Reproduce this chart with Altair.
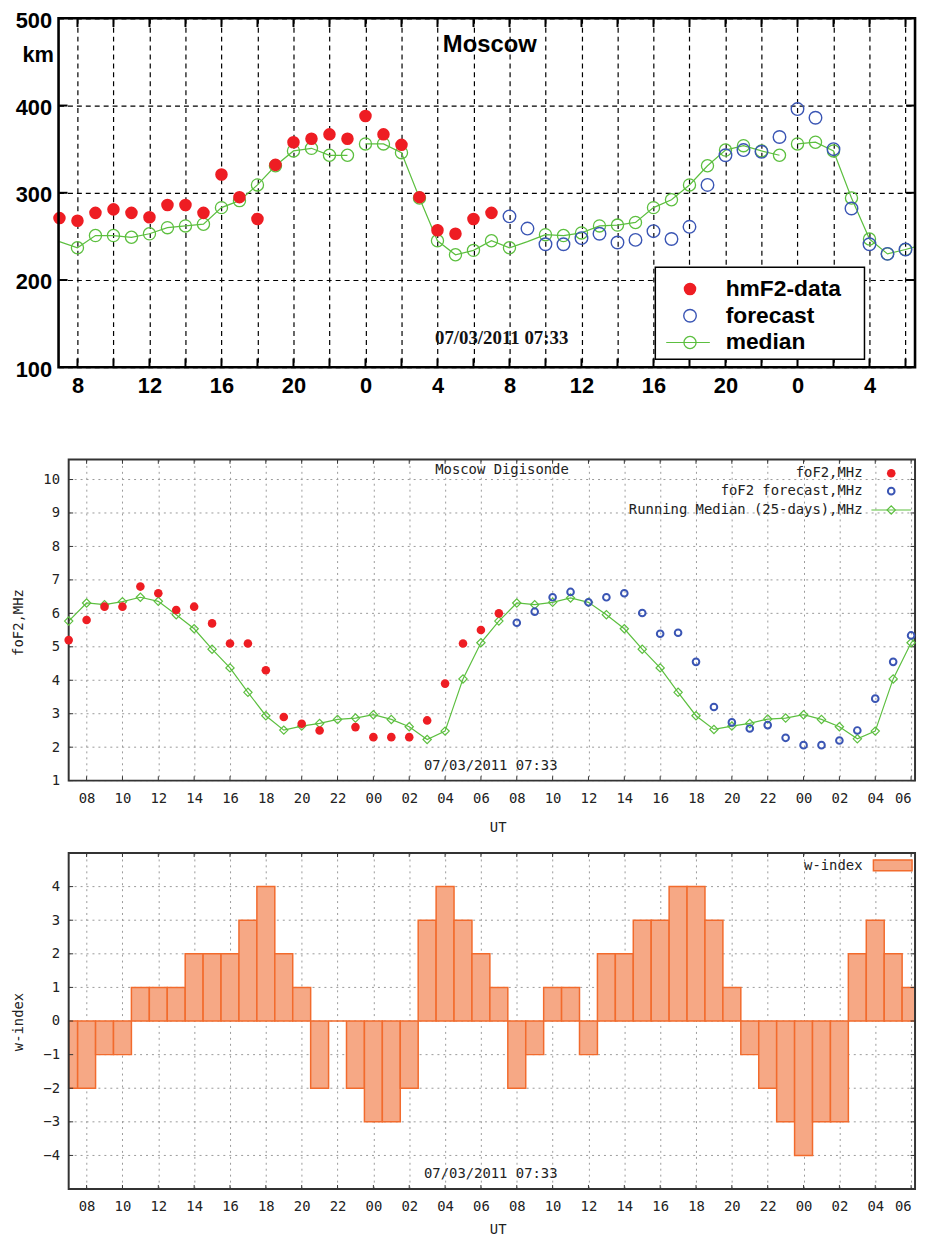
import altair as alt
import pandas as pd

# ---------------- data (hour counted from 00 UT of the first day) ----------------
hm_hours = list(range(7, 32))
hm_values = [271, 268, 277, 281, 277, 272, 286, 286, 277, 321, 295, 270, 332, 358,
             362, 367, 362, 388, 367, 355, 295, 257, 253, 270, 277]
hm_fc_hours = list(range(32, 55))
hm_fc_values = [273, 259, 241, 241, 248, 253, 243, 246, 256, 247, 261, 309, 343, 349,
                347, 364, 396, 386, 350, 282, 241, 230, 235]
# median: hourly values, last entry is the value read at the right frame edge
hm_med_hours = list(range(7, 55)) + [54.53]
hm_med_values = [244, 237, 251, 251, 249, 253, 260, 262, 264, 283, 291, 309, 331, 348, 351, 343, 343,
                 356, 356, 346, 294, 245, 229, 234, 245, 237, 244, 252, 251, 254, 262, 263, 266, 283,
                 292, 309, 331, 349, 354, 348, 343,
                 356, 358, 348, 294, 247, 230, 235, 238]
hm_med_nomarker = [7, 33, 54.53]

fo_hours = list(range(7, 32))
fo_values = [5.2, 5.8, 6.2, 6.2, 6.8, 6.6, 6.1, 6.2, 5.7, 5.1, 5.1, 4.3, 2.9, 2.7, 2.5, None,
             2.6, 2.3, 2.3, 2.3, 2.8, 3.9, 5.1, 5.5, 6.0]
fo_fc_hours = list(range(32, 55))
fo_fc_values = [5.72, 6.05, 6.48, 6.64, 6.33, 6.48, 6.60, 6.01, 5.39, 5.42, 4.55, 3.20, 2.74,
                2.56, 2.66, 2.28, 2.06, 2.06, 2.20, 2.50, 3.45, 4.55, 5.34]
fo_med_hours = list(range(7, 55)) + [54.22]
fo_med_values = [5.77, 6.31, 6.26, 6.35, 6.48, 6.36, 5.96, 5.54, 4.93, 4.37, 3.64, 2.94, 2.51, 2.63,
                 2.71, 2.83, 2.87,
                 2.97, 2.83, 2.61, 2.23, 2.48, 4.04, 5.12, 5.77, 6.31, 6.26, 6.33, 6.46, 6.33, 5.96,
                 5.54, 4.93, 4.37, 3.64, 2.94, 2.53, 2.63, 2.71, 2.84, 2.87,
                 2.97, 2.83, 2.61, 2.25, 2.48, 4.04, 5.12, 5.25]

w_hours = list(range(7, 55))
w_values = [-2, -2, -1, -1, 1, 1, 1, 2, 2, 2, 3, 4, 2, 1, -2, 0, -2,
            -3, -3, -2, 3, 4, 3, 2, 1, -2, -1, 1, 1, -1, 2, 2, 3, 3, 4, 4, 3, 1, -1, -2, -3,
            -4, -3, -3, 2, 3, 2, 1]

hm_ticks = [100, 200, 300, 400, 500]
fo_ticks = [1, 2, 3, 4, 5, 6, 7, 8, 9, 10]
w_ticks = [-4, -3, -2, -1, 0, 1, 2, 3, 4]
hour_ticks = list(range(8, 55, 2))

hm_title = "Moscow"
hm_legend = ["hmF2-data", "forecast", "median"]
fo_title = "Moscow Digisonde"
fo_legend = ["foF2,MHz", "foF2 forecast,MHz", "Running Median (25-days),MHz"]
w_legend = "w-index"
stamp = "07/03/2011 07:33"

# ---------------- style ----------------
W = 864
H1, H2, H3 = 352, 324, 339
X1 = [6.95, 54.53]
X2 = [6.435, 54.22]
F0, F1 = 7.0, 54.22          # frame of the lower panels (hours)
Y1, Y2, Y3 = [100, 500], [1, 10.6], [-5, 5]
RED, BLUE, GREEN = "#EE1D23", "#3A55B4", "#5CBF3F"
ORANGE, ORANGE_FILL = "#F26B2D", "#F6A885"
SANS, MONO, SERIF = "Liberation Sans", "DejaVu Sans Mono", "Liberation Serif"
GRIDGREY = "#9a9a9a"
one = pd.DataFrame({"a": [0]})


def sc(dom):
    return alt.Scale(domain=dom, nice=False, zero=False)


def tv(text, x, y, **kw):
    return alt.Chart(pd.DataFrame({"t": [text]})).mark_text(**kw).encode(
        text="t:N", x=alt.value(x), y=alt.value(y))


# ---------------- axes ----------------
ax1x = alt.Axis(values=hour_ticks,
                labelExpr="datum.value % 4 == 0 ? '' + (datum.value % 24) : ''",
                labelFont=SANS, labelFontWeight="bold", labelFontSize=22, labelColor="black",
                labelPadding=8, labelFlush=False, labelOverlap=False,
                ticks=False, domain=False, grid=True, gridColor="black", gridDash=[5, 4],
                gridWidth=1.2, gridOpacity=1,
                title="\u00a0", titleFontSize=10, titleY=69, titleBaseline="middle")
ax1y = alt.Axis(values=hm_ticks, labelFont=SANS, labelFontWeight="bold", labelFontSize=22,
                labelColor="black", labelPadding=7, labelFlush=False, labelOverlap=False,
                labelOffset=2,
                ticks=False, domain=False, grid=True, gridColor="black", gridDash=[5, 4],
                gridWidth=1.2, gridOpacity=1,
                title="km", titleAngle=0, titleX=-21, titleY=37, titleAlign="center",
                titleBaseline="middle", titleFont=SANS, titleFontSize=22,
                titleFontWeight="bold", titleColor="black")

lower_xlab = "(datum.value % 24 < 10 ? '0' : '') + (datum.value % 24)"


def lower_xaxis(ty, lp):
    return alt.Axis(values=hour_ticks, labelExpr=lower_xlab, labelFont=MONO, labelFontSize=14,
                    labelColor="#222", labelPadding=lp, labelFlush=8, labelOverlap=False,
                    ticks=False, domain=False, grid=True, gridColor=GRIDGREY, gridDash=[2, 4],
                    gridWidth=1, gridOpacity=1,
                    title="UT", titleFont=MONO, titleFontSize=14, titleFontWeight="normal",
                    titleColor="#222", titleX=443, titleY=ty, titleAlign="center",
                    titleBaseline="middle")


def lower_yaxis(vals, title, ty):
    return alt.Axis(values=vals, labelFont=MONO, labelFontSize=14, labelColor="#222",
                    labelPadding=9, labelFlush=False, labelOverlap=False, offset=-10,
                    ticks=False, domain=False, grid=False,
                    title=title, titleFont=MONO, titleFontSize=14, titleFontWeight="normal",
                    titleColor="#222", titleX=-50, titleY=ty, titleAlign="center",
                    titleBaseline="middle")


ax2x, ax2y = lower_xaxis(47, 11), lower_yaxis(fo_ticks, "foF2,MHz", 164)
ax3x, ax3y = lower_xaxis(41, 11), lower_yaxis(w_ticks, "w-index", 170)


def mk_enc(xdom, ydom, axx, axy):
    ex = lambda f: alt.X(f, type="quantitative", scale=sc(xdom), axis=axx)
    ey = lambda f: alt.Y(f, type="quantitative", scale=sc(ydom), axis=axy)
    return ex, ey


# ============ panel 1 : hmF2 ============
ex1, ey1 = mk_enc(X1, Y1, ax1x, ax1y)
hm_df = pd.DataFrame({"h": hm_hours, "v": hm_values})
hm_fc_df = pd.DataFrame({"h": hm_fc_hours, "v": hm_fc_values})
hm_med_df = pd.DataFrame({"h": hm_med_hours, "v": hm_med_values})
hm_med_df["seg"] = (hm_med_df["h"] // 24).astype(int)
hm_med_pts = hm_med_df[~hm_med_df["h"].isin(hm_med_nomarker)]

p1_med_line = alt.Chart(hm_med_df).mark_line(color=GREEN, strokeWidth=1.2, clip=True).encode(
    x=ex1("h"), y=ey1("v"), detail="seg:N")
p1_med_pts = alt.Chart(hm_med_pts).mark_point(shape="circle", size=150, color=GREEN,
                                              strokeWidth=1.3, opacity=1).encode(x=ex1("h"), y=ey1("v"))
p1_data = alt.Chart(hm_df).mark_circle(size=160, color=RED, opacity=1).encode(x=ex1("h"), y=ey1("v"))
p1_fc = alt.Chart(hm_fc_df).mark_point(shape="circle", size=160, color=BLUE,
                                       strokeWidth=1.4, opacity=1).encode(x=ex1("h"), y=ey1("v"))

tk1_x = pd.DataFrame({"h": hour_ticks})
tk1_x["b0"], tk1_x["b1"], tk1_x["t0"], tk1_x["t1"] = 100, 110, 500, 490
tk1_y = pd.DataFrame({"v": hm_ticks[1:-1]})
tk1_y["l0"], tk1_y["l1"], tk1_y["r0"], tk1_y["r1"] = X1[0], X1[0] + 0.5, X1[1], X1[1] - 0.5
p1_bt = alt.Chart(tk1_x).mark_rule(color="black", strokeWidth=2).encode(
    x=ex1("h"), y=ey1("b0"), y2="b1:Q")
p1_tt = alt.Chart(tk1_x).mark_rule(color="black", strokeWidth=2).encode(
    x=ex1("h"), y=ey1("t0"), y2="t1:Q")
p1_lt = alt.Chart(tk1_y).mark_rule(color="black", strokeWidth=2).encode(
    y=ey1("v"), x=ex1("l0"), x2="l1:Q")
p1_rt = alt.Chart(tk1_y).mark_rule(color="black", strokeWidth=2).encode(
    y=ey1("v"), x=ex1("r0"), x2="r1:Q")
fr1 = pd.DataFrame({"x0": [X1[0]], "x1": [X1[1]], "y0": [Y1[0]], "y1": [Y1[1]]})
p1_frame = alt.Chart(fr1).mark_rect(fillOpacity=0, stroke="black", strokeWidth=2.6).encode(
    x=ex1("x0"), x2="x1:Q", y=ey1("y0"), y2="y1:Q")

p1_title = tv(hm_title, 435, 27, font=SANS, fontSize=24, fontWeight="bold", color="black")
p1_stamp = tv(stamp, 447, 323, font=SERIF, fontSize=19, fontWeight="bold", color="#111")
p1_box = alt.Chart(one).mark_rect(fill="white", stroke="black", strokeWidth=1.5).encode(
    x=alt.value(602), x2=alt.value(813), y=alt.value(251), y2=alt.value(344))
leg_rows = [273, 300, 327]
p1_leg_txt = [tv(t, 673, yy, font=SANS, fontSize=23, fontWeight="bold", color="black",
                 align="left", baseline="middle") for t, yy in zip(hm_legend, leg_rows)]
p1_leg_red = alt.Chart(one).mark_circle(size=160, color=RED, opacity=1).encode(
    x=alt.value(637), y=alt.value(leg_rows[0]))
p1_leg_blue = alt.Chart(one).mark_point(shape="circle", size=160, color=BLUE, strokeWidth=1.4,
                                        opacity=1).encode(x=alt.value(637), y=alt.value(leg_rows[1]))
p1_leg_line = alt.Chart(one).mark_rule(color=GREEN, strokeWidth=1.2).encode(
    x=alt.value(613), x2=alt.value(657), y=alt.value(leg_rows[2]))
p1_leg_gpt = alt.Chart(one).mark_point(shape="circle", size=150, color=GREEN, strokeWidth=1.3,
                                       opacity=1).encode(x=alt.value(637), y=alt.value(leg_rows[2]))

panel1 = alt.layer(p1_med_line, p1_bt, p1_tt, p1_lt, p1_rt, p1_med_pts, p1_data, p1_fc,
                   p1_frame, p1_title, p1_stamp, p1_box, *p1_leg_txt, p1_leg_red, p1_leg_blue,
                   p1_leg_line, p1_leg_gpt).properties(width=W, height=H1)


# ============ lower panels: shared helpers ============
def lower_deco(ex, ey, ydom, ticks, tick_len):
    gr = pd.DataFrame({"v": ticks})
    gr["l0"], gr["l1"], gr["r0"], gr["r1"] = F0, F0 + 0.25, F1, F1 - 0.25
    grid = alt.Chart(gr).mark_rule(color=GRIDGREY, strokeDash=[2, 4], strokeWidth=1).encode(
        y=ey("v"), x=ex("l0"), x2="r0:Q")
    lt = alt.Chart(gr).mark_rule(color="#333", strokeWidth=1).encode(
        y=ey("v"), x=ex("l0"), x2="l1:Q")
    rt = alt.Chart(gr).mark_rule(color="#333", strokeWidth=1).encode(
        y=ey("v"), x=ex("r0"), x2="r1:Q")
    tx = pd.DataFrame({"h": hour_ticks})
    tx["b0"], tx["b1"] = ydom[0], ydom[0] + tick_len
    tx["t0"], tx["t1"] = ydom[1], ydom[1] - tick_len
    bt = alt.Chart(tx).mark_rule(color="#333", strokeWidth=1).encode(
        x=ex("h"), y=ey("b0"), y2="b1:Q")
    tt = alt.Chart(tx).mark_rule(color="#333", strokeWidth=1).encode(
        x=ex("h"), y=ey("t0"), y2="t1:Q")
    fr = pd.DataFrame({"x0": [F0], "x1": [F1], "y0": [ydom[0]], "y1": [ydom[1]]})
    frame = alt.Chart(fr).mark_rect(fillOpacity=0, stroke="#333", strokeWidth=2).encode(
        x=ex("x0"), x2="x1:Q", y=ey("y0"), y2="y1:Q")
    return grid, [lt, rt, bt, tt, frame]


# ============ panel 2 : foF2 ============
ex2, ey2 = mk_enc(X2, Y2, ax2x, ax2y)
fo_df = pd.DataFrame({"h": fo_hours, "v": fo_values}).dropna()
fo_fc_df = pd.DataFrame({"h": fo_fc_hours, "v": fo_fc_values})
fo_med_df = pd.DataFrame({"h": fo_med_hours, "v": fo_med_values})
fo_med_pts = fo_med_df[fo_med_df["h"] <= 54]

grid2, deco2 = lower_deco(ex2, ey2, Y2, fo_ticks, 0.13)
p2_med_line = alt.Chart(fo_med_df).mark_line(color=GREEN, strokeWidth=1.2, clip=True).encode(
    x=ex2("h"), y=ey2("v"))
p2_med_pts = alt.Chart(fo_med_pts).mark_point(shape="diamond", size=70, color=GREEN,
                                              strokeWidth=1.2, opacity=1).encode(x=ex2("h"), y=ey2("v"))
p2_data = alt.Chart(fo_df).mark_circle(size=75, color=RED, opacity=1).encode(x=ex2("h"), y=ey2("v"))
p2_fc = alt.Chart(fo_fc_df).mark_point(shape="circle", size=45, color=BLUE, strokeWidth=2,
                                       opacity=1).encode(x=ex2("h"), y=ey2("v"))
p2_title = tv(fo_title, 380, 11, font=MONO, fontSize=14, color="#222", align="left",
              baseline="middle")
p2_stamp = tv(stamp, 436, 309, font=MONO, fontSize=14, color="#222", align="center",
              baseline="middle")
leg2_rows = [14, 32, 51]
p2_leg_txt = [tv(t, 811, yy, font=MONO, fontSize=14, color="#222", align="right",
                 baseline="middle") for t, yy in zip(fo_legend, leg2_rows)]
p2_leg_red = alt.Chart(one).mark_circle(size=75, color=RED, opacity=1).encode(
    x=alt.value(840), y=alt.value(leg2_rows[0]))
p2_leg_blue = alt.Chart(one).mark_point(shape="circle", size=45, color=BLUE, strokeWidth=2,
                                        opacity=1).encode(x=alt.value(840), y=alt.value(leg2_rows[1]))
p2_leg_line = alt.Chart(one).mark_rule(color=GREEN, strokeWidth=1.2).encode(
    x=alt.value(820), x2=alt.value(860), y=alt.value(leg2_rows[2]))
p2_leg_gpt = alt.Chart(one).mark_point(shape="diamond", size=70, color=GREEN, strokeWidth=1.2,
                                       opacity=1).encode(x=alt.value(840), y=alt.value(leg2_rows[2]))

panel2 = alt.layer(grid2, p2_med_line, *deco2, p2_med_pts, p2_data, p2_fc, p2_title, p2_stamp,
                   *p2_leg_txt, p2_leg_red, p2_leg_blue, p2_leg_line,
                   p2_leg_gpt).properties(width=W, height=H2)

# ============ panel 3 : w-index ============
ex3, ey3 = mk_enc(X2, Y3, ax3x, ax3y)
w_df = pd.DataFrame({"h": w_hours, "v": w_values})
grid3, deco3 = lower_deco(ex3, ey3, Y3, w_ticks, 0.12)
p3_bars = alt.Chart(w_df).transform_calculate(
    x0=f"max(datum.h - 0.5, {F0})", x1=f"min(datum.h + 0.5, {F1})", z="0").mark_bar(
    fill=ORANGE_FILL, stroke=ORANGE, strokeWidth=1.5, fillOpacity=1).encode(
    x=ex3("x0"), x2="x1:Q", y=ey3("v"), y2="z:Q")
p3_stamp = tv(stamp, 436, 324, font=MONO, fontSize=14, color="#222", align="center",
              baseline="middle")
p3_leg_txt = tv(w_legend, 811, 13, font=MONO, fontSize=14, color="#222", align="right",
                baseline="middle")
p3_leg_box = alt.Chart(one).mark_rect(fill=ORANGE_FILL, stroke=ORANGE, strokeWidth=1.5).encode(
    x=alt.value(822), x2=alt.value(861), y=alt.value(7), y2=alt.value(18))

panel3 = alt.layer(grid3, p3_bars, *deco3, p3_stamp, p3_leg_txt,
                   p3_leg_box).properties(width=W, height=H3)

chart = alt.vconcat(panel1, panel2, panel3, spacing=18).configure_view(
    stroke=None).configure_axis(labelOverlap=False).properties(
    padding={"left": 4, "top": -4, "right": 0, "bottom": 0})

chart.save("out.html", embed_options={"renderer": "svg", "actions": False})
